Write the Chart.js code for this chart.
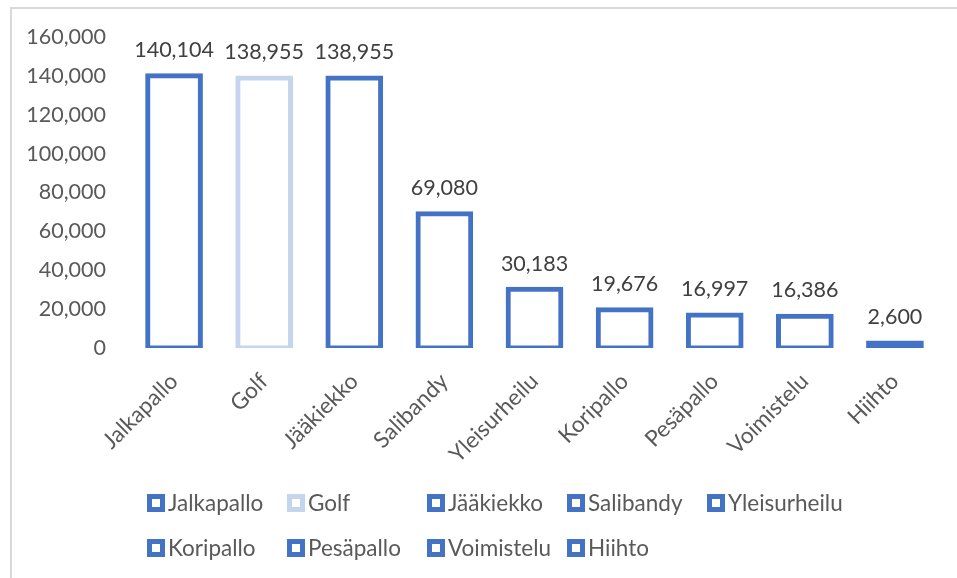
<!DOCTYPE html>
<html>
<head>
<meta charset="utf-8">
<script src="https://cdn.jsdelivr.net/npm/chart.js@4/dist/chart.umd.min.js"></script>
<style>
  html, body { margin: 0; padding: 0; background: #fff; }
  #wrap { width: 957px; height: 578px; position: relative; }
</style>
</head>
<body>
<div id="wrap"><canvas id="c" width="957" height="578"></canvas></div>
<script>
const categories = ["Jalkapallo", "Golf", "Jääkiekko", "Salibandy", "Yleisurheilu", "Koripallo", "Pesäpallo", "Voimistelu", "Hiihto"];
const values = [140104, 138955, 138955, 69080, 30183, 19676, 16997, 16386, 2600];
const barColors = ["#4472C4", "#C5D5EE", "#4472C4", "#4472C4", "#4472C4", "#4472C4", "#4472C4", "#4472C4", "#4472C4"];
const yTicks = [0, 20000, 40000, 60000, 80000, 100000, 120000, 140000, 160000];

const FONT = "Lato, 'Open Sans', sans-serif";
const fmt = v => v.toLocaleString('en-US');

const frame = {
  id: 'frame',
  beforeDraw(chart) {
    const ctx = chart.ctx;
    ctx.save();
    ctx.fillStyle = '#fff';
    ctx.fillRect(0, 0, chart.width, chart.height);
    ctx.strokeStyle = '#D9D9D9';
    ctx.lineWidth = 2;
    ctx.strokeRect(11, 8, 1000, 1000);
    ctx.restore();
  }
};

const valueLabels = {
  id: 'valueLabels',
  afterDatasetsDraw(chart) {
    const ctx = chart.ctx;
    const meta = chart.getDatasetMeta(0);
    ctx.save();
    ctx.font = "21.5px " + FONT;
    ctx.fillStyle = '#404040';
    ctx.textAlign = 'center';
    ctx.textBaseline = 'bottom';
    meta.data.forEach((bar, i) => {
      ctx.fillText(fmt(values[i]), bar.x, bar.y - 15);
    });
    ctx.restore();
  }
};

const gridLegend = {
  id: 'gridLegend',
  afterDraw(chart) {
    const ctx = chart.ctx;
    ctx.save();
    ctx.font = "22.5px " + FONT;
    ctx.textBaseline = 'middle';
    ctx.textAlign = 'left';
    categories.forEach((name, i) => {
      const col = i < 5 ? i : i - 5;
      const row = i < 5 ? 0 : 1;
      const x = 147 + col * 140;
      const y = 503 + row * 45;
      ctx.fillStyle = barColors[i];
      ctx.fillRect(x, y - 9, 18, 18);
      ctx.fillStyle = '#fff';
      ctx.fillRect(x + 5, y - 4, 8, 8);
      ctx.fillStyle = '#595959';
      ctx.fillText(name, x + 21, y + 1);
    });
    ctx.restore();
  }
};

new Chart(document.getElementById('c'), {
  type: 'bar',
  data: {
    labels: categories,
    datasets: [{
      data: values,
      backgroundColor: (c) => (c.raw !== undefined && c.raw < 5000) ? barColors[c.dataIndex] : '#FFFFFF',
      borderColor: barColors,
      borderWidth: 5,
      borderSkipped: false,
      inflateAmount: 2.5,
      categoryPercentage: 1.0,
      barPercentage: 0.585
    }]
  },
  options: {
    responsive: false,
    animation: false,
    devicePixelRatio: 1,
    layout: { padding: { top: 37, right: 17, bottom: 0, left: 0 } },
    plugins: { legend: { display: false }, tooltip: { enabled: false } },
    scales: {
      x: {
        grid: { display: false, drawTicks: false },
        border: { display: false },
        ticks: {
          color: '#595959',
          font: { family: FONT, size: 22.5 },
          minRotation: 45, maxRotation: 45,
          padding: 20,
          autoSkip: false
        },
        afterFit(scale) { scale.height = 230; }
      },
      y: {
        min: 0, max: 160000,
        grid: { display: false, drawTicks: false },
        border: { display: false },
        afterBuildTicks(scale) { scale.ticks = yTicks.map(v => ({ value: v })); },
        ticks: {
          color: '#595959',
          font: { family: FONT, size: 21.5 },
          padding: 23,
          callback: v => fmt(v)
        },
        afterFit(scale) { scale.width = 129; }
      }
    }
  },
  plugins: [frame, valueLabels, gridLegend]
});
</script>
</body>
</html>
